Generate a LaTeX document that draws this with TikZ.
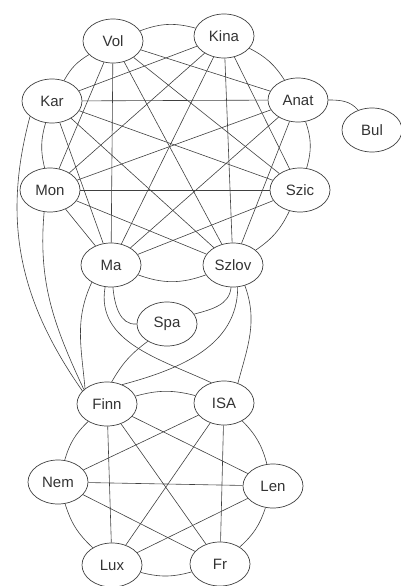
\documentclass[tikz,border=0pt]{standalone}
\usepackage{fontspec}
\setmainfont{Liberation Sans}
\usetikzlibrary{shapes.geometric}
\begin{document}
\begin{tikzpicture}[x=1pt,y=1pt,
  country/.style={draw=black!75, line width=0.7pt, ellipse, minimum width=60pt, minimum height=44pt, inner sep=0pt, font=\fontsize{15}{17}\selectfont, text=black!80},
  link/.style={draw=black!75, line width=0.6pt}]
\useasboundingbox (0,0) rectangle (400,-586);
\node[country] (Vol)   at (113,-41)  {Vol};
\node[country] (Kina)  at (224,-36)  {Kina};
\node[country] (Kar)   at (52,-101)  {Kar};
\node[country] (Anat)  at (298,-100) {Anat};
\node[country] (Bul)   at (372,-130) {Bul};
\node[country] (Mon)   at (50,-190)  {Mon};
\node[country] (Szic)  at (300,-190) {Szic};
\node[country] (Ma)    at (111,-265) {Ma};
\node[country] (Szlov) at (233,-265) {Szlov};
\node[country] (Spa)   at (167,-324) {Spa};
\node[country] (Finn)  at (107,-404) {Finn};
\node[country] (ISA)   at (224,-403) {ISA};
\node[country] (Nem)   at (58,-482)  {Nem};
\node[country] (Len)   at (273,-486) {Len};
\node[country] (Lux)   at (112,-565) {Lux};
\node[country] (Fr)    at (220,-564) {Fr};
% top cluster perimeter
\draw[link] (Vol) to[bend left=18] (Kina);
\draw[link] (Kina) to[bend left=15] (Anat);
\draw[link] (Anat) to[bend left=18] (Szic);
\draw[link] (Szic) to[bend left=15] (Szlov);
\draw[link] (Szlov) to[bend left=20] (Ma);
\draw[link] (Ma) -- (Mon);
\draw[link] (Mon) to[bend left=15] (Kar);
\draw[link] (Kar) to[bend left=15] (Vol);
% top cluster chords
\draw[link] (Vol) -- (Anat);
\draw[link] (Vol) -- (Szic);
\draw[link] (Vol) -- (Szlov);
\draw[link] (Vol) -- (Ma);
\draw[link] (Vol) -- (Mon);
\draw[link] (Kina) -- (Kar);
\draw[link] (Kina) -- (Mon);
\draw[link] (Kina) -- (Ma);
\draw[link] (Kina) -- (Szlov);
\draw[link] (Kina) -- (Szic);
\draw[link] (Kar) -- (Anat);
\draw[link] (Kar) -- (Szic);
\draw[link] (Kar) -- (Szlov);
\draw[link] (Kar) -- (Ma);
\draw[link] (Anat) -- (Mon);
\draw[link] (Anat) -- (Ma);
\draw[link] (Anat) -- (Szlov);
\draw[link] (Mon) -- (Szic);
\draw[link] (Mon) -- (Szlov);
\draw[link] (Szic) -- (Ma);
% Bul
\draw[link] (Anat) to[out=0,in=130] (Bul.125);
% middle
\draw[link] (Ma.275) to[out=-85,in=185] (Spa.180);
\draw[link] (Szlov.265) to[out=-95,in=15] (Spa.20);
\draw[link] (Ma.255) to[out=-100,in=155] (ISA.122);
\draw[link] (Szlov.282) to[out=-90,in=15] (Finn.52);
\draw[link] (Spa.222) to[bend right=12] (Finn.78);
\draw[link] (Szlov.300) to[out=-70,in=75] (ISA.55);
\draw[link] (Ma.222) to[out=245,in=95] (Finn.145);
\draw[link] (Mon.255) to[out=265,in=115] (Finn.148);
\draw[link] (Kar.215) to[out=255,in=125] (Finn.152);
% bottom cluster perimeter
\draw[link] (Finn) to[bend left=15] (ISA);
\draw[link] (ISA) to[bend left=15] (Len);
\draw[link] (Len) to[bend left=15] (Fr);
\draw[link] (Fr) to[bend left=15] (Lux);
\draw[link] (Lux) to[bend left=15] (Nem);
\draw[link] (Nem) to[bend left=15] (Finn);
% bottom cluster chords
\draw[link] (Finn) -- (Lux);
\draw[link] (Finn) -- (Fr);
\draw[link] (Finn) -- (Len);
\draw[link] (ISA) -- (Nem);
\draw[link] (ISA) -- (Lux);
\draw[link] (ISA) -- (Fr);
\draw[link] (Nem) -- (Len);
\draw[link] (Nem) -- (Fr);
\draw[link] (Len) -- (Lux);
\end{tikzpicture}
\end{document}
